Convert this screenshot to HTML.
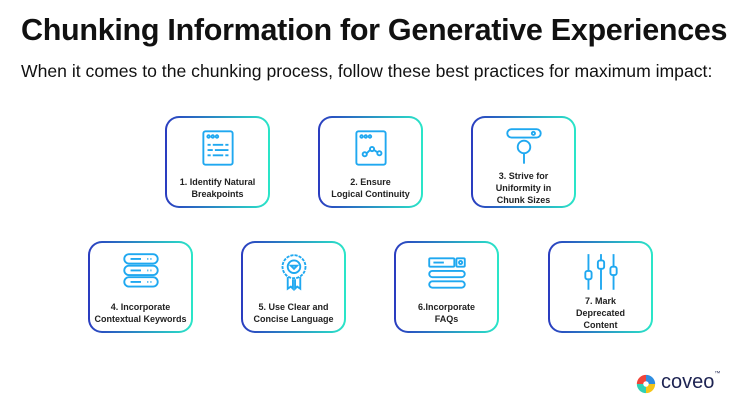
<!DOCTYPE html>
<html><head><meta charset="utf-8"><style>
body{margin:0;width:742px;height:415px;background:#fff;font-family:"Liberation Sans",sans-serif;position:relative;overflow:hidden;color:#1a1a2e}
h1{position:absolute;left:21px;top:13px;margin:0;font-size:30.5px;font-weight:bold;letter-spacing:-0.3px;color:#111}
.sub{position:absolute;left:21px;top:61px;font-size:17.6px;color:#111}
.box{position:absolute;width:105px;height:92px;border-radius:14px;border:2.5px solid transparent;box-sizing:border-box;
background:linear-gradient(#fff,#fff) padding-box,linear-gradient(90deg,#2a3cc0,#2ae6c8) border-box}
.box svg{position:absolute;left:50%;margin-left:-22px;top:7px}
.lbl{position:absolute;left:0;right:0;text-align:center;font-size:9px;font-weight:bold;line-height:12px;color:#222}
</style></head><body>
<h1>Chunking Information for Generative Experiences</h1>
<div class="sub">When it comes to the chunking process, follow these best practices for maximum impact:</div>

<div class="box" style="left:165px;top:116px"><svg width="44" height="46" viewBox="0 0 40 44" fill="none" stroke="#1fa8f0" stroke-width="1.8"><rect x="6" y="6" width="28" height="32" rx="2"/><circle cx="11" cy="11" r="1.2"/><circle cx="15" cy="11" r="1.2"/><circle cx="19" cy="11" r="1.2"/><path d="M10 19h3M15 19h10M27 19h3M10 24h5M17 24h13M10 29h3M15 29h10M27 29h3"/></svg><div class="lbl" style="top:58px">1. Identify Natural<br>Breakpoints</div></div>

<div class="box" style="left:318px;top:116px"><svg width="44" height="46" viewBox="0 0 40 44" fill="none" stroke="#1fa8f0" stroke-width="1.8"><rect x="6" y="6" width="28" height="32" rx="2"/><circle cx="11" cy="11" r="1.2"/><circle cx="15" cy="11" r="1.2"/><circle cx="19" cy="11" r="1.2"/><circle cx="14" cy="28" r="2"/><circle cx="21" cy="23" r="2"/><circle cx="28" cy="27" r="2"/><path d="M16 27l3-3M23 24l3 2"/></svg><div class="lbl" style="top:58px">2. Ensure<br>Logical Continuity</div></div>

<div class="box" style="left:471px;top:116px"><svg width="44" height="46" viewBox="0 0 40 44" fill="none" stroke="#1fa8f0" stroke-width="1.8"><rect x="4" y="4" width="32" height="8" rx="4"/><circle cx="29" cy="8" r="1.5"/><circle cx="20" cy="21" r="6"/><path d="M20 27v10"/></svg><div class="lbl" style="top:52px">3. Strive for<br>Uniformity in<br>Chunk Sizes</div></div>

<div class="box" style="left:88px;top:241px"><svg width="44" height="46" viewBox="0 0 40 44" fill="none" stroke="#1fa8f0" stroke-width="1.8"><rect x="4" y="4" width="32" height="9" rx="4.5"/><rect x="4" y="15" width="32" height="9" rx="4.5"/><rect x="4" y="26" width="32" height="9" rx="4.5"/><path d="M10 8.5h10M26 8.5h1M29 8.5h1M10 19.5h10M26 19.5h1M29 19.5h1M10 30.5h10M26 30.5h1M29 30.5h1"/></svg><div class="lbl" style="top:58px">4. Incorporate<br>Contextual Keywords</div></div>

<div class="box" style="left:241px;top:241px"><svg width="44" height="46" viewBox="0 0 40 44" fill="none" stroke="#1fa8f0" stroke-width="1.8"><circle cx="20" cy="16" r="11" stroke-dasharray="3 1"/><circle cx="20" cy="16" r="6"/><path d="M17 15h6l-3 3z"/><path d="M14 26v11l3-2 2 2V28M26 26v11l-3-2-2 2V28"/></svg><div class="lbl" style="top:58px">5. Use Clear and<br>Concise Language</div></div>

<div class="box" style="left:394px;top:241px"><svg width="44" height="46" viewBox="0 0 40 44" fill="none" stroke="#1fa8f0" stroke-width="1.8"><rect x="3" y="8" width="24" height="8" rx="1"/><rect x="29" y="8" width="8" height="8" rx="1"/><circle cx="33" cy="12" r="1.5"/><rect x="3" y="20" width="34" height="6" rx="3"/><rect x="3" y="30" width="34" height="6" rx="3"/><path d="M7 12h10"/></svg><div class="lbl" style="top:58px">6.Incorporate<br>FAQs</div></div>

<div class="box" style="left:548px;top:241px"><svg width="44" height="46" viewBox="0 0 40 44" fill="none" stroke="#1fa8f0" stroke-width="1.8"><path d="M8 4v34M20 4v34M32 4v34"/><rect x="5" y="20" width="6" height="8" rx="2" fill="#fff"/><rect x="17" y="10" width="6" height="8" rx="2" fill="#fff"/><rect x="29" y="16" width="6" height="8" rx="2" fill="#fff"/></svg><div class="lbl" style="top:52px">7. Mark<br>Deprecated<br>Content</div></div>

<svg style="position:absolute;left:635px;top:373px" width="22" height="22" viewBox="0 0 24 24"><path d="M12 2a10 10 0 0 0-10 10h7a3 3 0 0 1 3-3z" fill="#f0453a"/><path d="M12 2a10 10 0 0 1 10 10h-7a3 3 0 0 0-3-3z" fill="#2f8de0"/><path d="M2 12a10 10 0 0 0 10 10v-7a3 3 0 0 1-3-3z" fill="#2fd1b5"/><path d="M22 12a10 10 0 0 1-10 10v-7a3 3 0 0 0 3-3z" fill="#f5c518"/></svg>
<div style="position:absolute;left:661px;top:371px;font-size:20px;color:#1d2352">coveo<span style="font-size:6px;vertical-align:top">™</span></div>
</body></html>
